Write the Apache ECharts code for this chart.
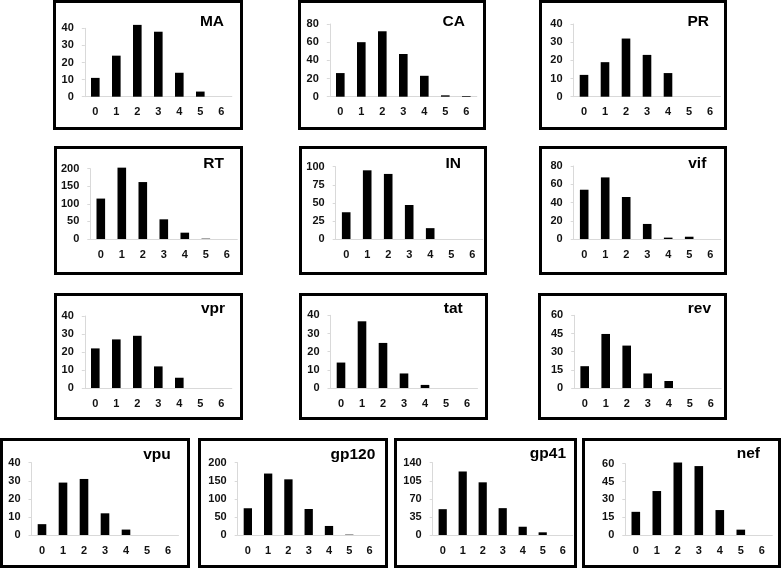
<!DOCTYPE html>
<html>
<head>
<meta charset="utf-8">
<script src="https://cdn.jsdelivr.net/npm/echarts@6/dist/echarts.min.js"></script>
<style>
html,body{margin:0;padding:0;background:#fff;}
#chart{width:781px;height:569px;}
</style>
</head>
<body>
<div id="chart"></div>
<script>
// ---- data ----
const categories = ['0', '1', '2', '3', '4', '5', '6'];
const panelNames = ['MA', 'CA', 'PR', 'RT', 'IN', 'vif', 'vpr', 'tat', 'rev', 'vpu', 'gp120', 'gp41', 'nef'];
const MA    = [11, 24, 42, 38, 14, 3, 0];
const CA    = [26, 60, 72, 47, 23, 1.5, 0.8];
const PR    = [12, 19, 32, 23, 13, 0, 0];
const RT    = [115, 203, 162, 56, 18, 1, 0];
const IN    = [37, 95, 90, 47, 15, 0, 0];
const vif   = [54, 67.5, 46, 16.5, 1.5, 2.5, 0];
const vpr   = [22, 27, 29, 12, 5.7, 0, 0];
const tat   = [14, 36.7, 24.8, 8, 1.7, 0, 0];
const rev   = [18, 44.6, 35, 12, 5.8, 0, 0];
const vpu   = [6, 29, 31, 12, 3, 0, 0];
const gp120 = [74, 170, 154, 72, 25, 1, 0];
const gp41  = [50, 123, 102, 52, 16, 5.2, 0];
const nef   = [19.5, 37, 61, 58, 21, 4.5, 0];
const panelValues = [MA, CA, PR, RT, IN, vif, vpr, tat, rev, vpu, gp120, gp41, nef];
// y-axis tick labels: max and step
const yMax  = [40, 80, 40, 200, 100, 80, 40, 40, 60, 40, 200, 140, 60];
const yStep = [10, 20, 10, 50, 25, 20, 10, 10, 15, 10, 50, 35, 15];

// ---- layout (pixels) ----
// box: [x1, y1, x2, y2]; plot: [left, top, right, bottom]; title: [rightEdge, centerY]
const boxes = [
  [53, 0, 243, 130], [298, 0, 486, 130], [539, 0, 727, 130],
  [54, 146, 243, 275], [299, 146, 487, 275], [539, 146, 727, 275],
  [54, 293, 243, 420], [299, 293, 488, 420], [538, 293, 727, 420],
  [0, 438, 190, 568], [198, 438, 388, 568], [394, 438, 577, 568], [582, 438, 781, 568]
];
const plots = [
  [84.8, 28.3, 231.8, 96.7], [329.8, 24, 476.8, 96.7], [573.5, 24, 720.5, 96.7],
  [90.3, 168.7, 237.3, 239], [335.7, 166.7, 482.7, 239], [573.7, 166, 720.7, 239],
  [84.8, 316, 231.8, 388], [330.5, 315.3, 477.5, 388], [574.2, 315.3, 721.2, 388],
  [31.5, 462.7, 178.5, 535], [237.7, 462.7, 379.7, 535], [432.7, 462.7, 572.7, 535], [625.3, 463.7, 772.3, 535]
];
const titles = [
  [224, 22], [465, 21.7], [709, 21.7],
  [224, 163.3], [461, 163.3], [706.3, 163.3],
  [225, 309], [462.7, 309], [711, 309],
  [170.7, 454.3], [375.3, 454.3], [566, 454], [760, 454]
];

const W = 781, H = 569;
const FONT = "'Liberation Sans', Arial, sans-serif";
const option = {
  animation: false,
  backgroundColor: '#fff',
  title: [], grid: [], xAxis: [], yAxis: [], series: [], graphic: []
};

panelNames.forEach((name, i) => {
  const b = boxes[i], p = plots[i], t = titles[i];
  option.graphic.push({
    type: 'rect', silent: true,
    shape: { x: b[0] + 1.5, y: b[1] + 1.5, width: b[2] - b[0] - 3, height: b[3] - b[1] - 3 },
    style: { fill: 'none', stroke: '#000', lineWidth: 3 }
  });
  option.title.push({
    text: name, right: W - t[0], top: t[1] - 8, padding: 0,
    textStyle: { fontFamily: FONT, fontWeight: 'bold', fontSize: 15.5, color: '#000' }
  });
  option.grid.push({
    left: p[0], top: p[1], width: p[2] - p[0], height: p[3] - p[1],
    outerBoundsMode: 'none', containLabel: false
  });
  option.xAxis.push({
    type: 'category', gridIndex: i, data: categories,
    axisLine: { lineStyle: { color: '#d9d9d9', width: 1 } },
    axisTick: { show: false },
    axisLabel: { fontFamily: FONT, fontWeight: 'bold', fontSize: 11, color: '#111', margin: 10 }
  });
  option.yAxis.push({
    type: 'value', gridIndex: i, min: 0, max: yMax[i], interval: yStep[i],
    axisLine: { show: true, lineStyle: { color: '#d9d9d9', width: 1 } },
    axisTick: { show: true, length: 3, lineStyle: { color: '#d9d9d9' } },
    splitLine: { show: false },
    axisLabel: { fontFamily: FONT, fontWeight: 'bold', fontSize: 11, color: '#111', margin: 11 }
  });
  option.series.push({
    type: 'bar', name: name, xAxisIndex: i, yAxisIndex: i,
    data: panelValues[i], barWidth: '41%', clip: false,
    itemStyle: { color: '#000' }
  });
});

const chart = echarts.init(document.getElementById('chart'), null, { renderer: 'canvas' });
chart.setOption(option);
</script>
</body>
</html>
